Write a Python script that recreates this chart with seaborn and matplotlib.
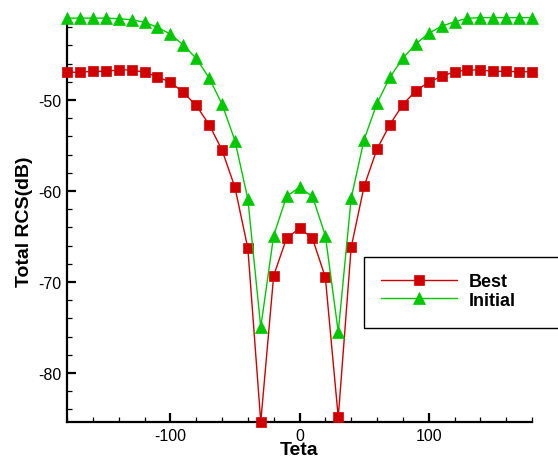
import pandas as pd
import matplotlib

matplotlib.use("Agg")
import matplotlib.pyplot as plt
import seaborn as sns
from matplotlib.ticker import MultipleLocator
from matplotlib.patches import Rectangle

teta = list(range(-180, 181, 10))

best = [
    -46.95, -46.95, -46.85, -46.85, -46.7, -46.7, -46.95, -47.45, -48.05, -49.15,
    -50.6, -52.7, -55.5, -59.6,
    -66.3, -85.4, -69.3, -65.2, -64.1, -65.2, -69.5, -84.9, -66.2,
    -59.5, -55.4, -52.7, -50.5, -49.0, -48.05, -47.4, -46.9, -46.7, -46.7,
    -46.85, -46.85, -46.9, -46.9,
]

initial = [
    -41.0, -41.0, -41.0, -41.0, -41.07, -41.18, -41.46, -42.01, -42.75, -43.96,
    -45.42, -47.58, -50.44, -54.47, -60.88,
    -75.0, -64.9, -60.6, -59.6, -60.6, -64.9, -75.5, -60.8,
    -54.36, -50.37, -47.5, -45.42, -43.85, -42.67, -41.9, -41.4, -41.02,
    -40.95, -40.95, -40.95, -40.95, -40.95,
]

series = ["Best", "Initial"]
colors = {"Best": "#d00000", "Initial": "#00c800"}
markers = {"Best": "s", "Initial": "^"}
sizes = {"Best": 7.2, "Initial": 8.5}


def main():
    sns.set_style("white")
    plt.rcParams["font.family"] = ["Liberation Sans", "DejaVu Sans"]
    plt.rcParams["axes.unicode_minus"] = False
    for key in ["text.color", "axes.labelcolor", "xtick.color", "ytick.color"]:
        plt.rcParams[key] = "black"

    df = pd.concat(
        [
            pd.DataFrame({"Teta": teta, "RCS": best, "Case": "Best"}),
            pd.DataFrame({"Teta": teta, "RCS": initial, "Case": "Initial"}),
        ],
        ignore_index=True,
    )

    fig = plt.figure(figsize=(5.58, 4.6), dpi=100)
    ax = fig.add_axes([0.1201, 0.0804, 0.8333, 0.8761])

    for name in series:
        sub = df[df["Case"] == name]
        sns.lineplot(
            ax=ax,
            data=sub,
            x="Teta",
            y="RCS",
            color=colors[name],
            marker=markers[name],
            markersize=sizes[name],
            markeredgecolor=colors[name],
            markeredgewidth=0.5,
            linewidth=1,
            label=name,
            clip_on=False,
            zorder=3,
        )

    ax.set_xlim(-180, 180)
    ax.set_ylim(-85.4, -41.1)
    ax.xaxis.set_major_locator(MultipleLocator(100))
    ax.xaxis.set_minor_locator(MultipleLocator(20))
    ax.yaxis.set_major_locator(MultipleLocator(10))
    ax.yaxis.set_minor_locator(MultipleLocator(2))

    for side in ["top", "right"]:
        ax.spines[side].set_visible(False)
    for side in ["left", "bottom"]:
        ax.spines[side].set_linewidth(1.6)
        ax.spines[side].set_color("black")

    ax.tick_params(which="major", direction="in", length=6.5, width=1.6,
                   labelsize=11.5, pad=4, colors="black")
    ax.tick_params(which="minor", direction="in", length=3.6, width=0.9,
                   colors="black")
    ax.tick_params(left=True, bottom=True, which="both")

    ax.set_xlabel("Teta", fontsize=14, fontweight="bold", labelpad=-1)
    ax.set_ylabel("Total RCS(dB)", fontsize=14, fontweight="bold", labelpad=4)
    ax.grid(False)

    handles, labels = ax.get_legend_handles_labels()
    ax.legend(
        handles,
        labels,
        loc="upper left",
        bbox_to_anchor=(381 / 558, 1 - 274 / 460),
        bbox_transform=fig.transFigure,
        frameon=False,
        borderpad=0,
        borderaxespad=0,
        handlelength=4.2,
        handletextpad=0.65,
        labelspacing=0.1,
        prop={"weight": "bold", "size": 13},
    )

    # legend frame runs past the right edge, as in the original
    fig.patches.append(
        Rectangle(
            (364 / 558, 1 - 329 / 460),
            210 / 558,
            71 / 460,
            transform=fig.transFigure,
            fill=False,
            edgecolor="black",
            linewidth=1,
            zorder=5,
        )
    )

    plt.savefig("out.png", dpi=100)


if __name__ == "__main__":
    main()
